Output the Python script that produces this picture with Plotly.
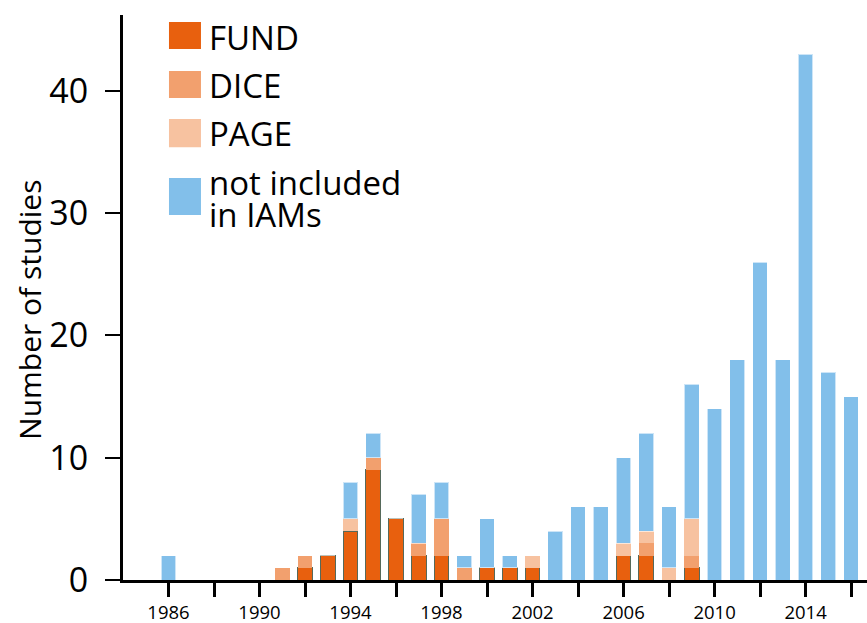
import plotly.graph_objects as go

years = list(range(1986, 2017))
fund = [0, 0, 0, 0, 0, 0, 1, 2, 4, 9, 5, 2, 2, 0, 1, 1, 1, 0, 0, 0, 2, 2, 0, 1, 0, 0, 0, 0, 0, 0, 0]
dice = [0, 0, 0, 0, 0, 1, 1, 0, 0, 1, 0, 1, 3, 1, 0, 0, 0, 0, 0, 0, 0, 1, 0, 1, 0, 0, 0, 0, 0, 0, 0]
page = [0, 0, 0, 0, 0, 0, 0, 0, 1, 0, 0, 0, 0, 0, 0, 0, 1, 0, 0, 0, 1, 1, 1, 3, 0, 0, 0, 0, 0, 0, 0]
not_iam = [2, 0, 0, 0, 0, 0, 0, 0, 3, 2, 0, 4, 3, 1, 4, 1, 0, 4, 6, 6, 7, 8, 5, 11, 14, 18, 26, 18, 43, 17, 15]

series_names = ["FUND", "DICE", "PAGE", "not included in IAMs"]
legend_lines = [["FUND"], ["DICE"], ["PAGE"], ["not included", "in IAMs"]]
series_values = [fund, dice, page, not_iam]
series_colors = ["#E8600E", "#F2A06E", "#F7C2A0", "#82BFEA"]
line_colors = ["#56695a", "rgba(0,0,0,0)", "rgba(0,0,0,0)", "rgba(255,255,255,0.6)"]

tick_years = list(range(1986, 2017, 2))
tick_text = [str(y) if (y - 1986) % 4 == 0 else "" for y in tick_years]

FONT = "Open Sans"

fig = go.Figure()
for name, vals, col, lc in zip(series_names, series_values, series_colors, line_colors):
    fig.add_trace(go.Bar(
        x=years, y=vals, name=name, width=0.65,
        marker=dict(color=col, line=dict(color=lc, width=1)),
        showlegend=False,
    ))

# custom legend (big squares)
legend_rows = [(0.9876, 0.9398, [0.961]), (0.9009, 0.853, [0.876]),
               (0.816, 0.766, [0.791]), (0.7115, 0.646, [0.703, 0.647])]
shapes = []
annotations = []
for (y0, y1, yts), lines, col in zip(legend_rows, legend_lines, series_colors):
    shapes.append(dict(type="rect", xref="paper", yref="paper", x0=0.0618, x1=0.1048,
                       y0=y1, y1=y0, fillcolor=col, line=dict(width=0)))
    for yt, txt in zip(yts, lines):
        annotations.append(dict(xref="paper", yref="paper", x=0.113, y=yt, text=txt,
                                showarrow=False, xanchor="left", yanchor="middle", align="left",
                                font=dict(family=FONT, size=33, color="black")))

annotations.append(dict(xref="paper", yref="paper", x=-0.125, y=0.478, text="Number of studies",
                        textangle=-90, showarrow=False, xanchor="center", yanchor="middle",
                        font=dict(family=FONT, size=30, color="black")))

fig.update_layout(
    barmode="stack",
    width=867, height=623,
    margin=dict(l=123, r=0, t=15, b=43),
    plot_bgcolor="white", paper_bgcolor="white",
    shapes=shapes, annotations=annotations,
    font=dict(family=FONT, color="black"),
    xaxis=dict(
        range=[1984, 2016.7], tickvals=tick_years, ticktext=tick_text,
        ticks="outside", ticklen=14, tickwidth=3, tickcolor="black",
        showline=True, linewidth=3, linecolor="black", showgrid=False, zeroline=False,
        tickfont=dict(family=FONT, size=18.5), ticklabelstandoff=0, automargin=False,
    ),
    yaxis=dict(
        range=[0, 46.2], tickvals=[0, 10, 20, 30, 40],
        ticks="outside", ticklen=15, tickwidth=1.5, tickcolor="black",
        showline=True, linewidth=3, linecolor="black", showgrid=False, zeroline=False,
        tickfont=dict(family=FONT, size=34), ticklabelstandoff=10, automargin=False,
    ),
)

fig.write_html("out.html", config={"displayModeBar": False},
               post_script="document.body.style.margin='0';document.body.style.overflow='hidden';")
